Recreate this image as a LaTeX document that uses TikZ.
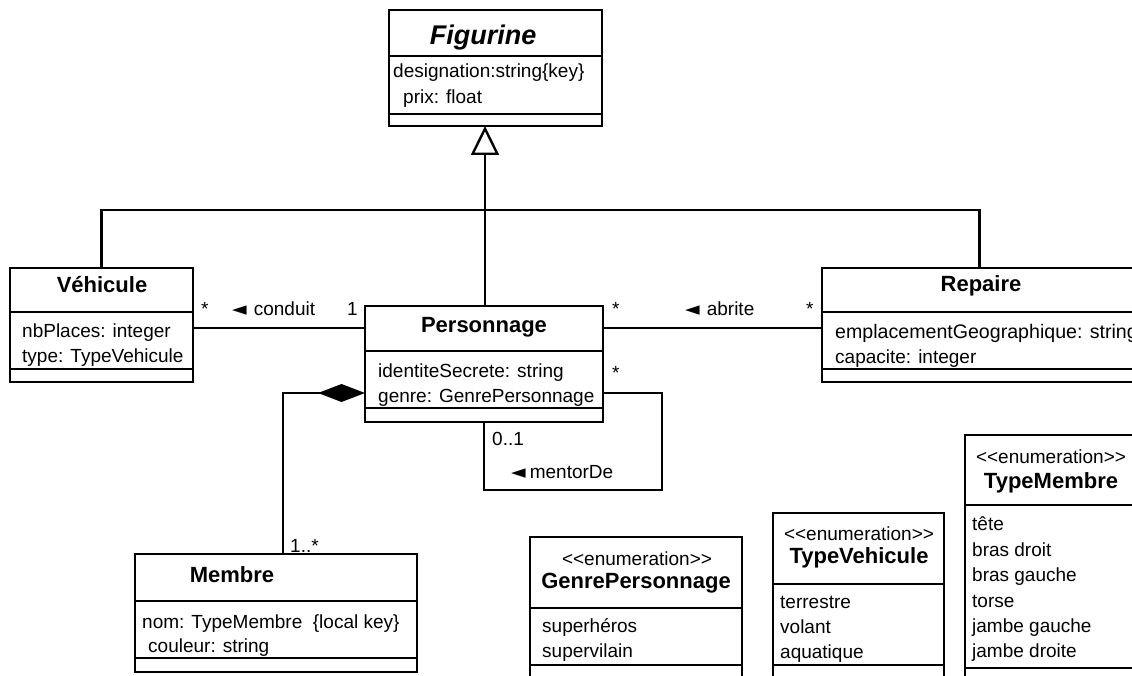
\documentclass[tikz,border=0pt]{standalone}
\usepackage{fontspec}
\setmainfont{Liberation Sans}
\newfontfamily\symfont{DejaVu Sans}
\usetikzlibrary{arrows.meta}

% left-pointing reading-direction marker
\newcommand\rdir{{\symfont\fontsize{19}{19}\selectfont ◄}}
% stereotype text, kerned so that << and >> stay as two characters
\newcommand\enumst{<\kern0pt<enumeration>\kern0pt>}

\begin{document}
\begin{tikzpicture}[x=1pt,y=-1pt,
  box/.style={draw, line width=2.6pt, rectangle, inner sep=0pt, outer sep=0pt, anchor=north west},
  sep/.style={line width=2.6pt},
  conn/.style={line width=2.4pt},
  attr/.style={anchor=base west, inner sep=0pt, font=\fontsize{19}{19}\selectfont},
  lab/.style={anchor=base west, inner sep=0pt, font=\fontsize{19}{19}\selectfont},
  title/.style={anchor=base, inner sep=0pt, font=\fontsize{22}{22}\selectfont\bfseries},
  stereo/.style={anchor=base, inner sep=0pt, font=\fontsize{19}{19}\selectfont},
]
\clip (0,0) rectangle (1132,676);
\fill[white] (0,0) rectangle (1132,676);

% ---- Figurine (abstract) ----
\node[box, minimum width=213pt, minimum height=116pt] (fig) at (389,10) {};
\draw[sep] (389,56) -- (602,56);
\draw[sep] (389,114) -- (602,114);
\node[anchor=base, inner sep=0pt, font=\fontsize{27}{27}\selectfont\bfseries\itshape] (figT) at (483,45) {Figurine};
\node[attr] (figA1) at (393,78) {designation:string\{key\}};
\node[attr] (figA2) at (403,104) {prix: float};

% ---- Vehicule ----
\node[box, minimum width=183pt, minimum height=114pt] (veh) at (10,268) {};
\draw[sep] (10,312) -- (193,312);
\draw[sep] (10,369) -- (193,369);
\node[title] (vehT) at (102,293) {Véhicule};
\node[attr] (vehA1) at (22,337) {nbPlaces: integer};
\node[attr] (vehA2) at (22,362) {type: TypeVehicule};

% ---- Personnage ----
\node[box, minimum width=238pt, minimum height=116pt] (pers) at (365,306) {};
\draw[sep] (365,351) -- (603,351);
\draw[sep] (365,408) -- (603,408);
\node[title] (persT) at (484,332) {Personnage};
\node[attr] (persA1) at (378,377) {identiteSecrete: string};
\node[attr] (persA2) at (378,402) {genre: GenrePersonnage};

% ---- Repaire (runs past the right edge) ----
\node[box, minimum width=315pt, minimum height=114pt] (rep) at (822,268) {};
\draw[sep] (822,312) -- (1137,312);
\draw[sep] (822,369) -- (1137,369);
\node[title] (repT) at (981,291) {Repaire};
\node[attr, font=\fontsize{19.6}{19.6}\selectfont] (repA1) at (835,338) {emplacementGeographique: string};
\node[attr] (repA2) at (835,363) {capacite: integer};

% ---- Membre ----
\node[box, minimum width=282pt, minimum height=118pt] (mem) at (135,554) {};
\draw[sep] (135,601) -- (417,601);
\draw[sep] (135,658) -- (417,658);
\node[title] (memT) at (232,582) {Membre};
\node[attr] (memA1) at (142,628) {nom: TypeMembre \ \{local key\}};
\node[attr] (memA2) at (148,652) {couleur: string};

% ---- GenrePersonnage ----
\node[box, minimum width=212pt, minimum height=160pt] (gp) at (530,537) {};
\draw[sep] (530,608) -- (742,608);
\draw[sep] (530,665) -- (742,665);
\node[stereo] (gpS) at (637,565) {\enumst};
\node[title] (gpT) at (636,588) {GenrePersonnage};
\node[attr] (gpA1) at (542,632) {superhéros};
\node[attr] (gpA2) at (542,657) {supervilain};

% ---- TypeVehicule ----
\node[box, minimum width=171pt, minimum height=180pt] (tv) at (773,513) {};
\draw[sep] (773,584) -- (944,584);
\draw[sep] (773,665) -- (944,665);
\node[stereo] (tvS) at (859,540) {\enumst};
\node[title] (tvT) at (859,563) {TypeVehicule};
\node[attr] (tvA1) at (780,608) {terrestre};
\node[attr] (tvA2) at (780,633) {volant};
\node[attr] (tvA3) at (780,658) {aquatique};

% ---- TypeMembre ----
\node[box, minimum width=172pt, minimum height=260pt] (tm) at (965,435) {};
\draw[sep] (965,505) -- (1137,505);
\draw[sep] (965,668) -- (1137,668);
\node[stereo] (tmS) at (1051,463) {\enumst};
\node[title] (tmT) at (1051,488) {TypeMembre};
\node[attr] (tmA1) at (972,530) {tête};
\node[attr] (tmA2) at (972,556) {bras droit};
\node[attr] (tmA3) at (972,581) {bras gauche};
\node[attr] (tmA4) at (972,607) {torse};
\node[attr] (tmA5) at (972,632) {jambe gauche};
\node[attr] (tmA6) at (972,657) {jambe droite};

% ---- generalisation ----
\coordinate (jn) at (485,210);
\draw[conn, -{Triangle[open, length=29pt, width=28pt, line width=2.4pt]}]
  (pers.north -| jn) -- (fig.south -| jn);
\draw[conn] (veh.north) |- (jn) -| (rep.north);

% ---- associations ----
\coordinate (ay) at (0,328);
\draw[conn] (veh.east |- ay) -- (pers.west |- ay);
\node[lab] (cm1) at (201,316) {*};
\node[lab] (cn) at (232,316) {\rdir\hspace{7pt}conduit};
\node[lab] (cm2) at (347,316) {1};

\draw[conn] (pers.east |- ay) -- (rep.west |- ay);
\node[lab] (am1) at (612,316) {*};
\node[lab] (an) at (685,316) {\rdir\hspace{7pt}abrite};
\node[lab] (am2) at (806,316) {*};

% ---- mentorDe (reflexive) ----
\coordinate (my) at (0,393);
\coordinate (mc) at (662,490);
\draw[conn] (pers.east |- my) -| (mc) -| (pers.south);
\node[lab] (mm1) at (612,379) {*};
\node[lab] (mm2) at (492,445) {0..1};
\node[lab] (mn) at (511,478) {\rdir\hspace{4pt}mentorDe};

% ---- composition ----
\coordinate (cx) at (283,0);
\draw[conn, {Diamond[length=47pt, width=18pt]}-] (pers.west |- my) -| (mem.north -| cx);
\node[lab] (km) at (290,552) {1..*};
\end{tikzpicture}
\end{document}
